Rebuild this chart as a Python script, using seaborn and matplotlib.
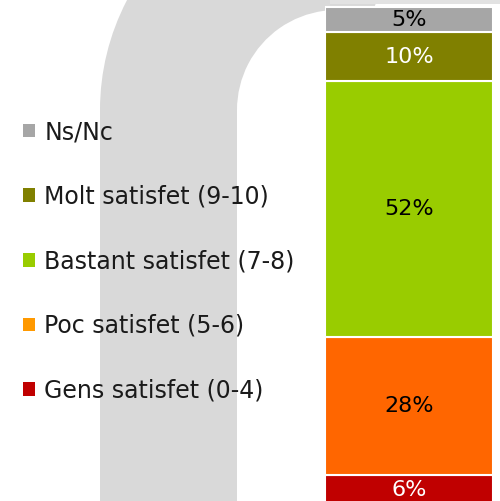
import matplotlib
matplotlib.use("Agg")
import matplotlib.pyplot as plt
from matplotlib.patches import Wedge, Rectangle, Patch
import seaborn as sns
import pandas as pd

# ---- data ----
categories = ["Gens satisfet (0-4)", "Poc satisfet (5-6)", "Bastant satisfet (7-8)",
              "Molt satisfet (9-10)", "Ns/Nc"]
values = [6, 28, 52, 10, 5]
bar_colors = ["#C00000", "#FF6600", "#99CC00", "#808000", "#A6A6A6"]
legend_colors = ["#C00000", "#FF9900", "#99CC00", "#808000", "#A6A6A6"]
label_colors = ["white", "black", "black", "white", "black"]

sns.set_theme(style="white")
plt.rcParams["font.family"] = ["DejaVu Sans"]
plt.rcParams["text.color"] = "#1a1a1a"

W, H = 500, 501
fig = plt.figure(figsize=(W / 100, H / 100), dpi=100)

# background decorative arch (pixel coordinates)
bg = fig.add_axes([0, 0, 1, 1])
bg.set_xlim(0, W)
bg.set_ylim(H, 0)
bg.axis("off")
arch_col = "#D9D9D9"
bg.add_patch(Wedge((337, 110), 237, 180, 290, width=137, facecolor=arch_col, edgecolor="none"))
bg.add_patch(Rectangle((100, 110), 137, H - 110 + 5, facecolor=arch_col, edgecolor="none"))
bg.add_patch(Rectangle((330, 0), 170, 4, facecolor="#E2E2E2", edgecolor="none"))

# stacked bar
ax = fig.add_axes([325 / W, 0, (493 - 325) / W, 1])
ax.patch.set_alpha(0)
cum = 0
for cat, v, c, lc in zip(categories, values, bar_colors, label_colors):
    df = pd.DataFrame({"grp": [""], "val": [v]})
    sns.barplot(data=df, x="grp", y="val", color=c, bottom=cum, width=1.0,
                edgecolor="white", linewidth=1.5, saturation=1, ax=ax)
    ax.text(0, cum + v / 2, f"{v}%", ha="center", va="center",
            fontsize=16, color=lc)
    cum += v
ax.set_xlim(-0.5, 0.5)
ax.set_ylim(0.7, 102.5)
ax.axis("off")

# legend (top to bottom reverse of stack)
handles = [Patch(facecolor=c, edgecolor="none") for c in legend_colors[::-1]]
fig.legend(handles, categories[::-1], loc="upper left",
           bbox_to_anchor=(23 / W, 1 - 120 / H), frameon=False,
           fontsize=17, handlelength=0.5, handleheight=0.5,
           handletextpad=0.4, labelspacing=1.72, borderaxespad=0, borderpad=0)

fig.savefig("out.png", dpi=100)
